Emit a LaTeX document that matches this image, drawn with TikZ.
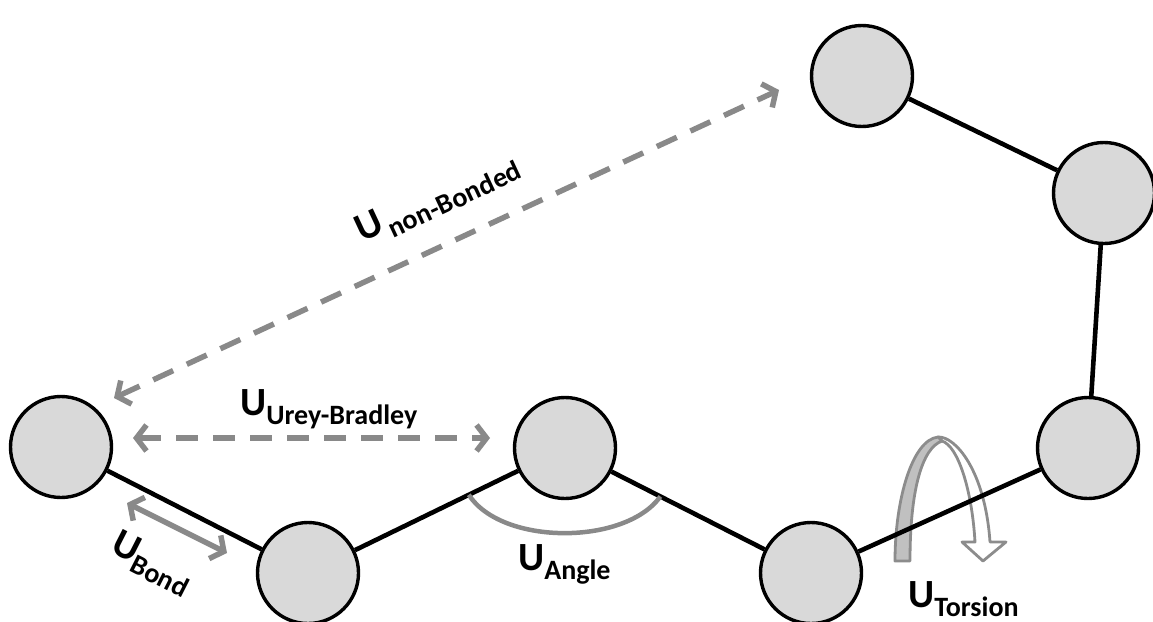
\documentclass[tikz,border=0pt]{standalone}
\usepackage{fontspec}
\setmainfont{Carlito}
\usetikzlibrary{arrows.meta,calc}
\definecolor{arrgray}{RGB}{137,137,137}
\definecolor{atomfill}{RGB}{217,217,217}
\definecolor{ribfill}{RGB}{192,192,192}
\definecolor{ribline}{RGB}{140,140,140}
\newcommand{\mylbl}[2][0pt]{{\fontsize{40}{40}\selectfont\bfseries U}\hspace{#1}{\fontsize{28}{28}\selectfont\bfseries\raisebox{-9pt}{#2}}}
\begin{document}
\begin{tikzpicture}[x=1pt,y=-1pt,
  atom/.style={circle,draw=black,line width=3.4pt,fill=atomfill,minimum size=101pt,inner sep=0pt},
  bond/.style={line width=4.6pt,black},
  garrow/.style={draw=arrgray,line width=5.5pt,{Straight Barb[length=10pt,width=26pt]}-{Straight Barb[length=10pt,width=26pt]}},
  dasharrow/.style={garrow,dash pattern=on 22pt off 15pt},
  lbl/.style={inner sep=0pt,anchor=base west,text=black},
  ribbon/.style={draw=ribline,line width=2.8pt,line join=round}]
\useasboundingbox (0,0) rectangle (1153,621);
% atoms
\node[atom] (A) at (61,447) {};
\node[atom] (B) at (308,573) {};
\node[atom] (C) at (565,448) {};
\node[atom] (D) at (811,573) {};
\node[atom] (E) at (1088,448) {};
\node[atom] (F) at (1104,193) {};
\node[atom] (G) at (862,76) {};
% torsion ribbon: white leg with arrow head
\draw[ribbon,fill=white] (938,437) .. controls (955,436) and (985,470) .. (990,542)
  -- (1006,542) -- (983,561) -- (962,542) -- (975,542)
  .. controls (972,490) and (958,446) .. (942,441) -- cycle;
% torsion ribbon: grey leg
\draw[ribbon,fill=ribfill] (895,561) .. controls (895,500) and (912,440) .. (938,437)
  -- (942,441) .. controls (922,448) and (910,490) .. (910,561) -- cycle;
% bonds
\draw[bond] (A) -- (B);
\draw[bond] (B) -- (C);
\draw[bond] (C) -- (D);
\draw[bond] (D) -- (E);
\draw[bond] (E) -- (F);
\draw[bond] (F) -- (G);
% angle arc
\coordinate (a1) at ($(C)!107pt!(B)$);
\coordinate (a2) at ($(C)!107pt!(D)$);
\draw[arrgray,line width=4.5pt] (a1) .. controls ($(a1)+(33,51)$) and ($(a2)+(-35,49)$) .. (a2);
% bond stretch arrow
\coordinate (b1) at (127,503);
\coordinate (b2) at (227,553);
\draw[garrow] (b1) -- (b2);
% Urey-Bradley arrow
\coordinate (u1) at (133,438);
\coordinate (u2) at (490,438);
\draw[dasharrow] (u1) -- (u2);
% non-bonded arrow
\coordinate (n1) at (114,398);
\coordinate (n2) at (779,90);
\draw[dasharrow] (n1) -- (n2);
% labels
\node[lbl] (lAngle) at (518,570) {\mylbl{Angle}};
\node[lbl] (lTorsion) at (908,607) {\mylbl{Torsion}};
\node[lbl] (lUB) at (240,415) {\mylbl{Urey-Bradley}};
\node[lbl,rotate=-27] (lBond) at (109,551) {\mylbl{Bond}};
\node[lbl,rotate=25] (lNB) at (362,243) {\mylbl[4pt]{non-Bonded}};
\end{tikzpicture}
\end{document}
